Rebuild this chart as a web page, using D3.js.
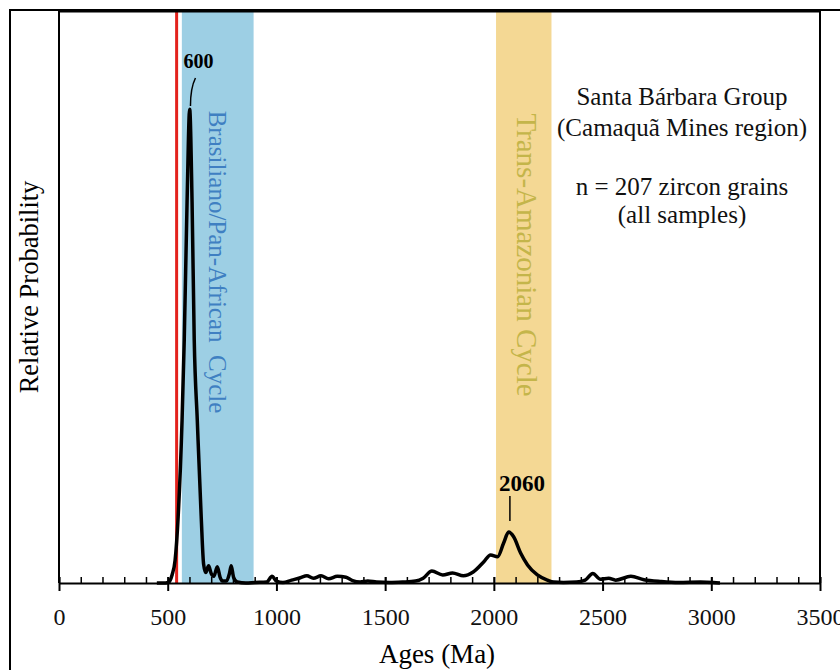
<!DOCTYPE html>
<html>
<head>
<meta charset="utf-8">
<script src="https://cdn.jsdelivr.net/npm/d3@7"></script>
<style>
  body { margin: 0; background: #fff; }
  svg text { font-family: "Liberation Serif", "Times New Roman", serif; }
</style>
</head>
<body>
<script>
// probability density curve (age in Ma, relative probability)
const ages = [450, 490, 505, 520, 534, 548, 566, 576, 589, 601, 612, 622, 636, 654, 665, 675, 688, 700, 712, 728, 741, 752, 770, 784, 792, 803, 820, 860,
  900, 955, 980, 1000, 1030, 1070, 1110, 1140, 1170, 1205, 1240, 1280, 1320, 1350, 1385, 1420, 1460, 1520, 1580, 1640, 1675,
  1715, 1765, 1810, 1860, 1905, 1953, 1985, 2017, 2045, 2068, 2091, 2123, 2155, 2200, 2247, 2275,
  2320, 2380, 2420, 2455, 2490, 2528, 2560, 2630, 2690, 2770, 2850, 2950, 3010, 3040];
const prob = [0, 0, 0.002, 0.017, 0.048, 0.139, 0.342, 0.51, 0.80, 0.995, 0.80, 0.51, 0.342, 0.139, 0.04, 0.022, 0.036, 0.02, 0.014, 0.034, 0.012, 0.004, 0.004, 0.02, 0.036, 0.012, 0.002, 0,
  0.001, 0.002, 0.014, 0.004, 0.001, 0.006, 0.011, 0.015, 0.01, 0.015, 0.009, 0.014, 0.012, 0.005, 0.002, 0.004, 0.002, 0.001, 0.002, 0.004, 0.01,
  0.025, 0.017, 0.021, 0.015, 0.023, 0.044, 0.059, 0.055, 0.084, 0.107, 0.097, 0.063, 0.038, 0.017, 0.006, 0.002,
  0.001, 0.002, 0.006, 0.02, 0.008, 0.01, 0.006, 0.014, 0.007, 0.003, 0.001, 0.002, 0.001, 0];

const majorTicks = [0, 500, 1000, 1500, 2000, 2500, 3000, 3500];
const minorTicks = d3.range(0, 3501, 100);

// orogenic cycles shaded on the chart
const bands = [
  { name: "Brasiliano/Pan-African\u00a0 Cycle", from: 565, to: 895 },
  { name: "Trans-Amazonian Cycle", from: 2010, to: 2265 }
];
const cambrianAge = 541;
const peaks = [600, 2060];
const infoLines = ["Santa Bárbara Group", "(Camaquã Mines region)", "n = 207 zircon grains", "(all samples)"];

const W = 840, H = 670;
const dims = { l: 59, r: 820, t: 11.5, b: 583 };

const svg = d3.select("body").append("svg")
  .attr("width", W).attr("height", H);

// outer frame (runs off the page right and bottom)
svg.append("rect")
  .attr("x", 10).attr("y", 10).attr("width", 840).attr("height", 700)
  .attr("fill", "none").attr("stroke", "#000").attr("stroke-width", 2);

const x = d3.scaleLinear().domain([0, 3500]).range([dims.l, dims.r]);
const y = d3.scaleLinear().domain([0, 1.2]).range([dims.b, dims.t]);

const bandCols = ["#9dcfe4", "#f4d894"];
const bandText = ["#3f80c2", "#c4b54a"];

svg.selectAll("rect.band")
  .data(bands)
  .enter()
  .append("rect")
  .attr("class", "band")
  .attr("x", d => x(d.from))
  .attr("width", d => x(d.to) - x(d.from))
  .attr("y", dims.t)
  .attr("height", dims.b - dims.t)
  .attr("fill", (d, i) => bandCols[i]);

// band labels, rotated to read downwards
const bandFont = [25, 29];
const bandMid = [262, 255];
svg.selectAll("text.band")
  .data(bands)
  .enter()
  .append("text")
  .attr("class", "band")
  .attr("transform", (d, i) => `translate(${(x(d.from) + x(d.to)) / 2 - 9 + i * 2}, ${bandMid[i]}) rotate(90)`)
  .attr("text-anchor", "middle")
  .attr("font-size", (d, i) => bandFont[i])
  .attr("fill", (d, i) => bandText[i])
  .text(d => d.name);

// red line at the Cambrian boundary
svg.append("line")
  .attr("x1", x(cambrianAge)).attr("x2", x(cambrianAge))
  .attr("y1", dims.t).attr("y2", dims.b)
  .attr("stroke", "#e3221c").attr("stroke-width", 3);

// plot frame
svg.append("path")
  .attr("d", `M${dims.l},${dims.b} V${dims.t} H${dims.r} V${dims.b}`)
  .attr("fill", "none").attr("stroke", "#000").attr("stroke-width", 2);

// x axis
const axis = svg.append("g").attr("transform", `translate(0, ${dims.b})`);
axis.call(d3.axisBottom(x).tickValues(minorTicks).tickSize(6).tickFormat(""))
axis.selectAll(".tick line").attr("y1", -6).attr("y2", 0).attr("stroke-width", 1.5);
axis.select(".domain").remove();

const axis2 = svg.append("g").attr("transform", `translate(0, ${dims.b})`);
axis2.call(d3.axisBottom(x).tickValues(majorTicks).tickSize(8).tickSizeOuter(0).tickFormat(d3.format("d")));
axis2.select(".domain").attr("stroke-width", 2);
axis2.selectAll(".tick line").attr("y1", -6).attr("y2", 8).attr("stroke-width", 2);
axis2.selectAll(".tick text")
  .attr("y", 42).attr("dy", 0)
  .attr("font-size", 24)
  .attr("font-family", "Liberation Serif")
  .attr("fill", "#111");

// density curve
const line = d3.line()
  .x((d, i) => x(ages[i]))
  .y(d => y(d))
  .curve(d3.curveMonotoneX);

svg.append("path")
  .datum(prob)
  .attr("d", line)
  .attr("fill", "none")
  .attr("stroke", "#000")
  .attr("stroke-width", 3.5)
  .attr("stroke-linejoin", "round");

// peak labels
svg.append("text")
  .attr("x", x(peaks[0]) + 9).attr("y", 68)
  .attr("text-anchor", "middle")
  .attr("font-size", 20).attr("font-weight", "bold")
  .text(peaks[0]);
svg.append("path")
  .attr("d", `M${x(peaks[0]) + 6},78 Q${x(peaks[0]) + 1},88 ${x(peaks[0]) + 1},106`)
  .attr("fill", "none").attr("stroke", "#000").attr("stroke-width", 1.5);

svg.append("text")
  .attr("x", x(peaks[1]) + 15).attr("y", 491)
  .attr("text-anchor", "middle")
  .attr("font-size", 23).attr("font-weight", "bold")
  .text(peaks[1]);
svg.append("line")
  .attr("x1", x(peaks[1]) + 3).attr("x2", x(peaks[1]) + 3)
  .attr("y1", 496).attr("y2", 521)
  .attr("stroke", "#000").attr("stroke-width", 1.5);

// sample info
const infoY = [105, 136, 195, 223];
svg.selectAll("text.info")
  .data(infoLines)
  .enter()
  .append("text")
  .attr("class", "info")
  .attr("x", 682)
  .attr("y", (d, i) => infoY[i])
  .attr("text-anchor", "middle")
  .attr("font-size", 25)
  .attr("fill", "#111")
  .text(d => d);

// axis titles
svg.append("text")
  .attr("x", 437).attr("y", 663)
  .attr("text-anchor", "middle")
  .attr("font-size", 27)
  .text("Ages (Ma)");

svg.append("text")
  .attr("transform", "translate(38, 287) rotate(-90)")
  .attr("text-anchor", "middle")
  .attr("font-size", 26.5)
  .text("Relative Probability");
</script>
</body>
</html>
